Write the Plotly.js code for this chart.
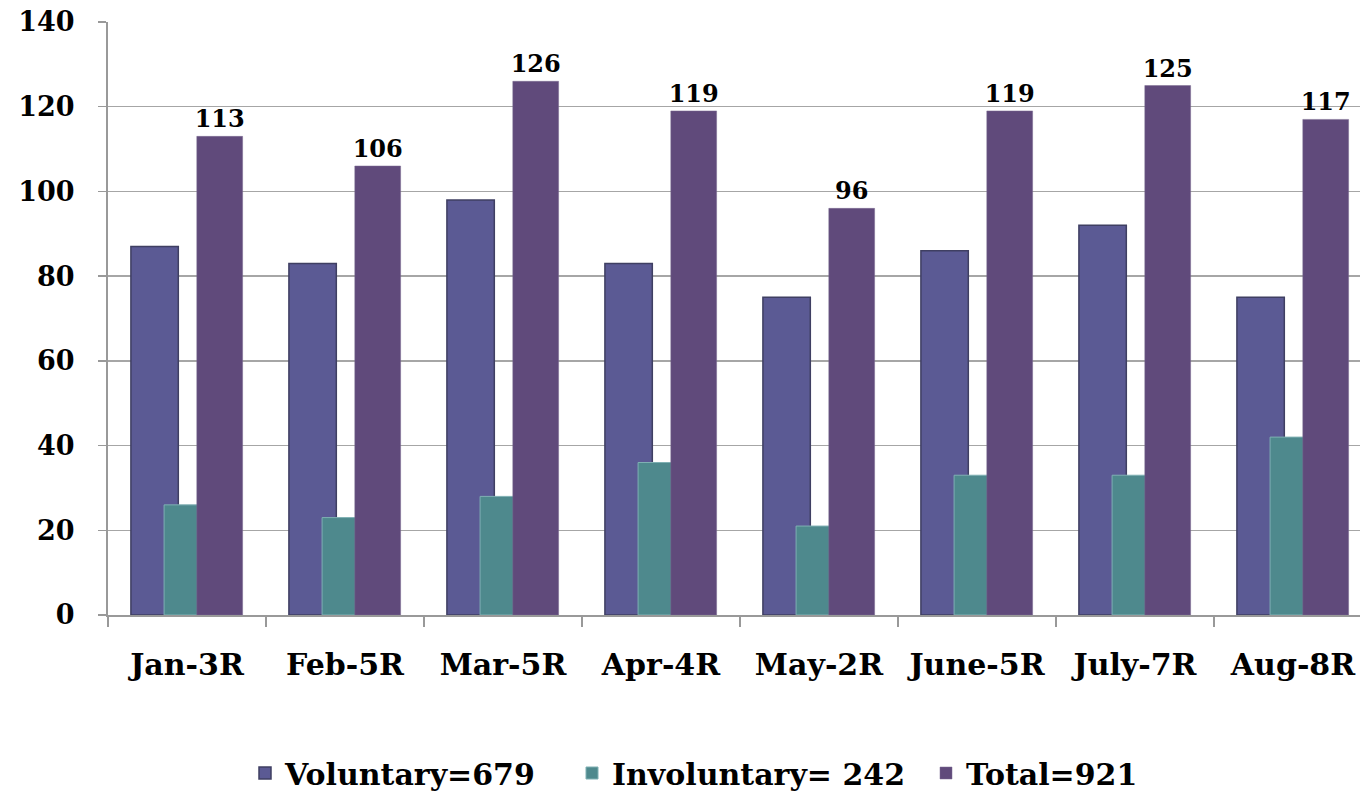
<!DOCTYPE html>
<html>
<head>
<meta charset="utf-8">
<script src="https://cdn.plot.ly/plotly-3.0.1.min.js"></script>
<style>html,body{margin:0;padding:0;overflow:hidden;background:#fff;}</style>
</head>
<body>
<div id="chart"></div>
<script>
const categories = ["Jan-3R","Feb-5R","Mar-5R","Apr-4R","May-2R","June-5R","July-7R","Aug-8R"];
const voluntary = [87, 83, 98, 83, 75, 86, 92, 75];
const involuntary = [26, 23, 28, 36, 21, 33, 33, 42];
const total = [113, 106, 126, 119, 96, 119, 125, 117];
const seriesNames = ["Voluntary=679", "Involuntary= 242", "Total=921"];
const yTicks = [0, 20, 40, 60, 80, 100, 120, 140];

const FONT = "DejaVu Serif, Liberation Serif, serif";
const W = 1380, H = 791;

const traces = [
  {type:"bar", name:seriesNames[0], legend:"legend", x:categories, y:voluntary, offset:-0.355, width:0.30,
   marker:{color:"#5B5A94", line:{color:"#3f3f62", width:1.5}}},
  {type:"bar", name:seriesNames[1], legend:"legend2", x:categories, y:involuntary, offset:-0.145, width:0.22,
   marker:{color:"#4E898D", line:{color:"#7fb0b3", width:1}}},
  {type:"bar", name:seriesNames[2], legend:"legend3", x:categories, y:total, offset:0.062, width:0.29,
   marker:{color:"#604A7B", line:{color:"#7a6a90", width:0.5}},
   text: total.map(String), textposition:"outside", cliponaxis:false, constraintext:"none",
   textfont:{family:FONT, size:24, color:"#000", weight:"bold"}}
];

function leg(xpx){
  return {
    orientation:"h", xref:"container", yref:"container",
    x:xpx/W, xanchor:"left", y:1-773/H, yanchor:"middle",
    font:{family:FONT, size:30, color:"#000", weight:"bold"},
    bgcolor:"rgba(0,0,0,0)", itemwidth:30
  };
}

const layout = {
  width:W, height:H,
  margin:{l:108, r:8, t:22, b:176},
  paper_bgcolor:"#fff", plot_bgcolor:"#fff",
  barmode:"overlay",
  showlegend:true,
  font:{family:FONT, color:"#000"},
  xaxis:{
    type:"category", range:[-0.5, 7.5], automargin:false,
    tickson:"boundaries", ticks:"outside", ticklen:10, tickcolor:"#999", tickwidth:1.5,
    showline:true, linecolor:"#999", linewidth:1.5,
    showgrid:false, zeroline:false,
    tickfont:{family:FONT, size:30, color:"#000", weight:"bold"},
    ticklabelstandoff:22
  },
  yaxis:{
    range:[0,140], tickvals:yTicks, ticktext:yTicks.map(String), automargin:false,
    ticks:"outside", ticklen:8, tickcolor:"#999", tickwidth:1.5,
    showline:true, linecolor:"#999", linewidth:2,
    showgrid:true, gridcolor:"#a6a6a6", gridwidth:1.5,
    zeroline:false,
    tickfont:{family:FONT, size:27, color:"#000", weight:"bold"},
    ticklabelstandoff:18
  },
  legend: leg(245),
  legend2: leg(572),
  legend3: leg(926)
};

Plotly.newPlot("chart", traces, layout, {displayModeBar:false, staticPlot:true});
</script>
</body>
</html>
